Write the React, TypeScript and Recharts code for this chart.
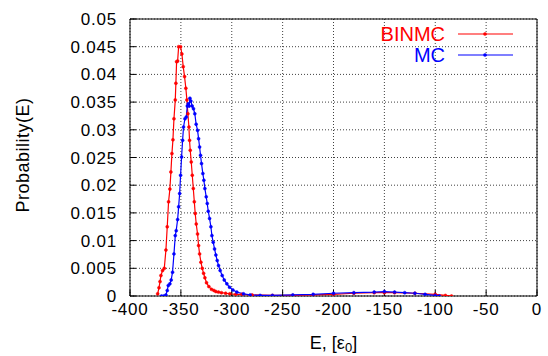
import React from 'react'
import { LineChart, Line, XAxis, YAxis, CartesianGrid, ReferenceArea } from 'recharts'

// [E, Probability(E)]
const binmcPoints: [number, number][] = [
  [-372.8, 0.0004], [-371.5, 0.0015], [-370.5, 0.0026], [-369.6, 0.0037], [-368.0, 0.0046],
  [-366.3, 0.005], [-364.7, 0.0083], [-363.4, 0.0125], [-362.1, 0.017], [-360.8, 0.0193],
  [-359.8, 0.0224], [-358.8, 0.0257], [-357.8, 0.0282], [-356.8, 0.032], [-355.5, 0.0354],
  [-354.9, 0.0384], [-354.2, 0.0423], [-353.2, 0.0424], [-352.2, 0.045], [-350.3, 0.045],
  [-349.0, 0.0437], [-347.7, 0.0414], [-346.4, 0.0396], [-345.1, 0.0375], [-344.1, 0.0354],
  [-343.1, 0.0329], [-342.1, 0.0305], [-341.5, 0.0281], [-340.8, 0.0263], [-339.8, 0.0242],
  [-338.8, 0.0218], [-337.8, 0.0194], [-336.8, 0.017], [-335.9, 0.0149], [-334.9, 0.013],
  [-333.6, 0.0112], [-332.6, 0.0091], [-331.6, 0.0076], [-330.3, 0.0061], [-329.0, 0.005],
  [-327.7, 0.0041], [-326.4, 0.0033], [-324.8, 0.0024], [-322.5, 0.0017], [-319.9, 0.0012],
  [-317.5, 0.001], [-315.6, 0.0008], [-313.0, 0.0007], [-310.1, 0.0006], [-306.0, 0.0005],
  [-301.9, 0.0004], [-296.0, 0.0003], [-290.0, 0.0003], [-280.0, 0.0002], [-260.0, 0.0001],
  [-240.0, 0.0001], [-220.0, 0.0002], [-200.0, 0.0003], [-180.0, 0.0005], [-160.0, 0.0006],
  [-150.0, 0.0006], [-140.0, 0.0006], [-120.0, 0.0005], [-100.0, 0.0003], [-90.0, 0.0001],
  [-84.0, 0],
]

const mcPoints: [number, number][] = [
  [-369.0, 0], [-366.7, 0], [-364.7, 0.0002], [-363.4, 0.001], [-362.4, 0.0019],
  [-360.8, 0.0022], [-359.5, 0.0029], [-358.2, 0.0043], [-356.8, 0.0076], [-355.5, 0.0109],
  [-354.6, 0.0118], [-353.2, 0.0138], [-352.2, 0.0161], [-351.2, 0.0185], [-350.3, 0.0218],
  [-349.3, 0.0251], [-348.3, 0.0281], [-347.4, 0.0305], [-346.0, 0.032], [-344.7, 0.0323],
  [-343.7, 0.0343], [-342.8, 0.0347], [-341.8, 0.0343], [-341.1, 0.0357], [-340.2, 0.0352],
  [-338.9, 0.0343], [-337.6, 0.0338], [-336.3, 0.0329], [-335.0, 0.031], [-333.6, 0.0299],
  [-332.6, 0.0284], [-331.6, 0.0269], [-330.7, 0.0254], [-329.7, 0.0239], [-328.4, 0.0221],
  [-327.4, 0.0209], [-326.4, 0.0194], [-325.1, 0.0179], [-324.1, 0.0167], [-323.1, 0.0153],
  [-321.8, 0.014], [-320.5, 0.0125], [-319.5, 0.0109], [-318.2, 0.0097], [-316.9, 0.0085],
  [-315.6, 0.0074], [-314.3, 0.0064], [-313.0, 0.0055], [-311.4, 0.0046], [-309.4, 0.0037],
  [-307.4, 0.0029], [-304.8, 0.0022], [-302.2, 0.0016], [-298.9, 0.0011], [-295.0, 0.0007],
  [-288.5, 0.0004], [-281.9, 0.0002], [-272.1, 0.0001], [-260.0, 0.0001], [-240.0, 0.0002],
  [-220.0, 0.0003], [-200.0, 0.0005], [-180.0, 0.0006], [-160.0, 0.0007], [-150.0, 0.0008],
  [-140.0, 0.0007], [-130.0, 0.0006], [-120.0, 0.0005], [-110.0, 0.0003], [-100.0, 0.0001],
  [-96.0, 0],
]

const xTicks = [-400, -350, -300, -250, -200, -150, -100, -50, 0]
const yTicks = [0, 0.005, 0.01, 0.015, 0.02, 0.025, 0.03, 0.035, 0.04, 0.045, 0.05]
const seriesNames = ['BINMC', 'MC']
const seriesColors = ['#ff0000', '#0000ff']

const toRows = (pts: [number, number][]) => pts.map(([e, p]) => ({ e, p }))

const font = 'Arial, "Liberation Sans", Helvetica, sans-serif'

function XLabel(props: any) {
  const vb = props.viewBox || {}
  const cx = vb.x + vb.width / 2
  return (
    <text x={cx} y={349} textAnchor="middle" fontSize={18} fontFamily={font} fill="#000">
      E, [ε<tspan fontSize={13} dy={3}>0</tspan><tspan dy={-3}>]</tspan>
    </text>
  )
}

function YLabel() {
  return (
    <text x={29} y={155} transform="rotate(-90 29 155)" textAnchor="middle" fontSize={18}
      fontFamily={font} fill="#000" letterSpacing={0.5}>
      Probability(E)
    </text>
  )
}

const NoTick = () => <g />

export default function App() {
  const tick = { fontSize: 17, fill: '#000', fontFamily: font, letterSpacing: 0.8 }
  const tickLine = { stroke: '#000', strokeWidth: 1 }
  return (
    <div style={{ position: 'absolute', left: 0, top: 0, width: 548, height: 356, background: '#fff' }}>
      <LineChart width={548} height={356} margin={{ top: 19, right: 11, bottom: 20, left: 70 }}>
        <CartesianGrid stroke="#000" strokeOpacity={0.75} strokeDasharray="1 2" horizontalValues={yTicks} verticalValues={xTicks} />
        <XAxis type="number" dataKey="e" domain={[-400, 0]} ticks={xTicks} allowDataOverflow
          height={40} tickLine={tickLine} axisLine={false} tickSize={-6} tickMargin={13} tick={tick}
          interval={0} label={<XLabel />} />
        <XAxis xAxisId="top" orientation="top" type="number" domain={[-400, 0]} ticks={xTicks}
          height={0} tickLine={tickLine} axisLine={false} tickSize={-6} tick={<NoTick />} interval={0} />
        <YAxis type="number" dataKey="p" domain={[0, 0.05]} ticks={yTicks} allowDataOverflow
          width={60} tickLine={tickLine} axisLine={false} tickSize={-6} tickMargin={19} tick={tick}
          interval={0} label={<YLabel />} />
        <YAxis yAxisId="right" orientation="right" type="number" domain={[0, 0.05]} ticks={yTicks}
          width={0} tickLine={tickLine} axisLine={false} tickSize={-6} tick={<NoTick />} interval={0} />
        <ReferenceArea x1={-400} x2={0} y1={0} y2={0.05} fill="none" stroke="#000" strokeWidth={1} />
        <Line data={toRows(binmcPoints)} dataKey="p" name={seriesNames[0]} type="linear"
          stroke={seriesColors[0]} strokeWidth={1.2} isAnimationActive={false}
          dot={{ r: 1.5, fill: seriesColors[0], stroke: seriesColors[0], strokeWidth: 0.5 }} />
        <Line data={toRows(mcPoints)} dataKey="p" name={seriesNames[1]} type="linear"
          stroke={seriesColors[1]} strokeWidth={1.2} isAnimationActive={false}
          dot={{ r: 1.5, fill: seriesColors[1], stroke: seriesColors[1], strokeWidth: 0.5 }} />
      </LineChart>
      <svg width={548} height={356} style={{ position: 'absolute', left: 0, top: 0, pointerEvents: 'none' }}>
        {seriesNames.map((name, i) => {
          const y = 34 + i * 21
          return (
            <g key={name}>
              <text x={445} y={y} textAnchor="end" dominantBaseline="central" fontSize={20}
                fontFamily={font} fill={seriesColors[i]}>{name}</text>
              <line x1={458} x2={513} y1={y} y2={y} stroke={seriesColors[i]} strokeWidth={1.2} />
              <circle cx={485} cy={y} r={1.8} fill={seriesColors[i]} />
            </g>
          )
        })}
      </svg>
    </div>
  )
}
